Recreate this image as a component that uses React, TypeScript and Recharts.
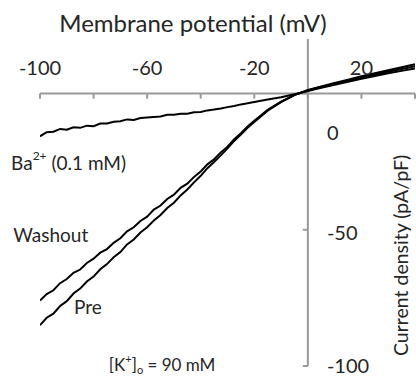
import React from 'react';
import { LineChart, Line, XAxis, YAxis, ReferenceLine, ReferenceDot } from 'recharts';

const voltages = [-100, -97.5, -95, -92.5, -90, -87.5, -85, -82.5, -80, -77.5, -75, -72.5, -70, -67.5, -65, -62.5, -60, -57.5, -55, -52.5, -50, -47.5, -45, -42.5, -40, -37.5, -35, -32.5, -30, -27.5, -25, -22.5, -20, -15, -10, -5, 0, 5, 10, 15, 20, 25, 30, 35, 40];
const preCurrent = [-85, -82.3, -80.8, -78.0, -76.2, -73.4, -71.6, -69.0, -67.2, -64.5, -62.6, -60.1, -58.2, -55.4, -53.6, -51.0, -49.1, -46.6, -44.6, -42.0, -40.1, -37.4, -35.2, -32.6, -30.2, -27.4, -25.1, -22.7, -20.1, -17.4, -15.1, -12.6, -10.5, -6.3, -3.2, -0.6, 1.3, 2.6, 3.9, 5.1, 6.3, 7.4, 8.5, 9.6, 10.7];
const washoutCurrent = [-76, -73.6, -72.2, -69.6, -68.1, -65.8, -64.6, -62.2, -60.6, -58.4, -57.1, -54.8, -53.1, -50.6, -49.1, -46.8, -45.2, -42.6, -41.1, -38.7, -37.1, -34.6, -33.1, -30.6, -28.6, -26.0, -24.1, -21.6, -19.5, -16.8, -14.6, -12.1, -10.0, -6.0, -3.0, -0.5, 1.1, 2.4, 3.6, 4.8, 5.9, 7.0, 8.0, 9.0, 10.0];
const bariumCurrent = [-15.7, -14.2, -14.0, -13.0, -13.3, -12.4, -12.6, -11.8, -12.0, -11.0, -11.0, -10.4, -10.2, -9.5, -9.7, -9.0, -8.8, -8.6, -8.4, -7.8, -7.8, -7.4, -7.4, -6.9, -6.8, -6.2, -5.9, -5.5, -5.0, -4.6, -4.0, -3.6, -3.1, -2.2, -1.4, -0.3, 0.9, 2.1, 3.2, 4.3, 5.4, 6.4, 7.4, 8.3, 9.2];

const xTicks = [-100, -80, -60, -40, -20, 0, 20, 40];
const xTickLabels = [-100, -60, -20, 20];
const yTicks = [0, -50, -100];
const yTickLabelPos = [-14.3, -51, -99.8];

const data = voltages.map((v, i) => ({
  v,
  pre: preCurrent[i],
  washout: washoutCurrent[i],
  ba: bariumCurrent[i],
}));

const FONT = 'Lato, "Open Sans", sans-serif';
const AXIS = '#9a9a9a';
const TEXT = '#262626';

const txt = (content: React.ReactNode, anchor: string = 'middle', size = 19, rotate = false) => (props: any) => {
  const vb = props.viewBox || {};
  const x = (vb.x ?? 0) + (vb.width ?? 0) / 2;
  const y = (vb.y ?? 0) + (vb.height ?? 0) / 2;
  return (
    <text
      x={x}
      y={y}
      textAnchor={anchor as any}
      dominantBaseline="central"
      fontFamily={FONT}
      fontSize={size}
      fill={TEXT}
      transform={rotate ? `rotate(-90 ${x} ${y})` : undefined}
    >
      {content}
    </text>
  );
};

const dot = (x: number, y: number, label: any, key: string) => (
  <ReferenceDot key={key} x={x} y={y} r={0} fill="none" stroke="none" ifOverflow="visible" label={label} />
);

export default function App() {
  return (
    <div style={{ position: 'absolute', left: 0, top: 0, background: '#fff' }}>
      <LineChart width={416} height={379} data={data} margin={{ top: 39, right: 1, bottom: 13, left: 40 }}>
        <XAxis dataKey="v" type="number" domain={[-100, 40]} hide allowDataOverflow />
        <YAxis type="number" domain={[-100, 20]} hide allowDataOverflow />
        <ReferenceLine y={0} stroke={AXIS} strokeWidth={2} ifOverflow="visible" />
        <ReferenceLine x={0} stroke={AXIS} strokeWidth={2} ifOverflow="visible" />
        {xTicks.map((t) => (
          <ReferenceLine
            key={'xt' + t}
            segment={[{ x: t, y: 0 }, { x: t, y: -1.9 }]}
            stroke={AXIS}
            strokeWidth={2}
            ifOverflow="visible"
          />
        ))}
        {yTicks.map((t) => (
          <ReferenceLine
            key={'yt' + t}
            segment={[{ x: 0, y: t }, { x: -1.9, y: t }]}
            stroke={AXIS}
            strokeWidth={2}
            ifOverflow="visible"
          />
        ))}
        {xTickLabels.map((t) => dot(t, 9.8, txt(String(t), 'middle', 20), 'xl' + t))}
        {yTicks.map((t, i) => dot(7.1, yTickLabelPos[i], txt(String(t), 'start', 20), 'yl' + t))}
        {dot(-42.9, 26.1, txt('Membrane potential (mV)', 'middle', 24), 'xtitle')}
        {dot(34.7, -59.4, txt('Current density (pA/pF)', 'middle', 19.5, true), 'ytitle')}
        {dot(
          -110.8,
          -25.3,
          txt(
            <>
              Ba
              <tspan dy={-7} fontSize={12}>2+</tspan>
              <tspan dy={7}> (0.1 mM)</tspan>
            </>,
            'start'
          ),
          'ba'
        )}
        {dot(-110, -51.7, txt('Washout', 'start'), 'wash')}
        {dot(-87.3, -78.2, txt('Pre', 'start'), 'pre')}
        {dot(
          -74.3,
          -99.4,
          txt(
            <>
              [K
              <tspan dy={-6} fontSize={11}>+</tspan>
              <tspan dy={6}>]</tspan>
              <tspan dy={5} fontSize={11}>o</tspan>
              <tspan dy={-5}> = 90 mM</tspan>
            </>,
            'start',
            17
          ),
          'k'
        )}
        <Line dataKey="pre" type="linear" stroke="#000" strokeWidth={2} dot={false} isAnimationActive={false} />
        <Line dataKey="washout" type="linear" stroke="#000" strokeWidth={2} dot={false} isAnimationActive={false} />
        <Line dataKey="ba" type="linear" stroke="#000" strokeWidth={2} dot={false} isAnimationActive={false} />
      </LineChart>
    </div>
  );
}
